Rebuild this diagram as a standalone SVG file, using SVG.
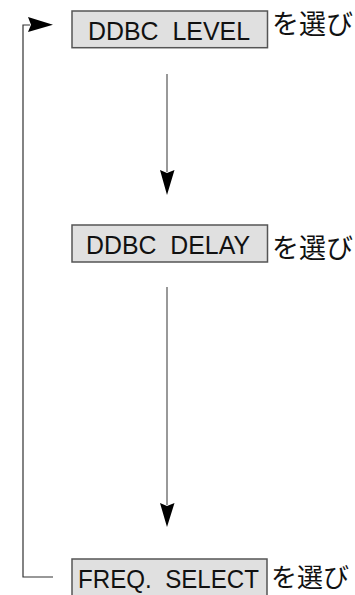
<svg xmlns="http://www.w3.org/2000/svg" width="355" height="595" viewBox="0 0 355 595">
<style>
.box{fill:#e0e0e0;stroke:#555;stroke-width:1.5}
.lbl{font-family:"Liberation Sans",Arial,sans-serif;font-size:26px;fill:#111}
.jp{font-family:"Noto Sans CJK JP",sans-serif;font-size:27px;fill:#111}
.flow{stroke:#777;stroke-width:1.5;fill:none}
.loop{stroke:#333;stroke-width:1.2;fill:none}
.head{fill:#000}
</style>
<rect width="355" height="595" fill="#fff"/>
<g id="connectors">
  <line class="flow" x1="167" y1="74" x2="167" y2="172"/>
  <path class="head" d="M160,170 L167,173 L174.5,170 L167,195 Z"/>
  <line class="flow" x1="167" y1="287" x2="167" y2="505"/>
  <path class="head" d="M160,503 L167,506 L174.5,503 L167,527 Z"/>
  <polyline class="loop" points="53,577 23,577 23,25 30,25"/>
  <path class="head" d="M28,17 L31,24.7 L28,32 L53,24.7 Z"/>
</g>
<g id="node-ddbc-level">
  <rect class="box" x="72" y="11" width="195.5" height="36.7"/>
  <text class="lbl" x="88" y="39.5" textLength="162" lengthAdjust="spacingAndGlyphs" xml:space="preserve">DDBC  LEVEL</text>
  <text class="jp" x="272" y="34">を選び</text>
</g>
<g id="node-ddbc-delay">
  <rect class="box" x="72" y="225" width="195.5" height="37"/>
  <text class="lbl" x="86" y="254" textLength="164" lengthAdjust="spacingAndGlyphs" xml:space="preserve">DDBC  DELAY</text>
  <text class="jp" x="272" y="258">を選び</text>
</g>
<g id="node-freq-select">
  <rect class="box" x="72" y="559" width="195" height="40"/>
  <text class="lbl" x="78" y="588" textLength="181" lengthAdjust="spacingAndGlyphs" style="font-size:25px" xml:space="preserve">FREQ.  SELECT</text>
  <text class="jp" x="271" y="586.5" style="font-size:26px">を選び</text>
</g>
</svg>
